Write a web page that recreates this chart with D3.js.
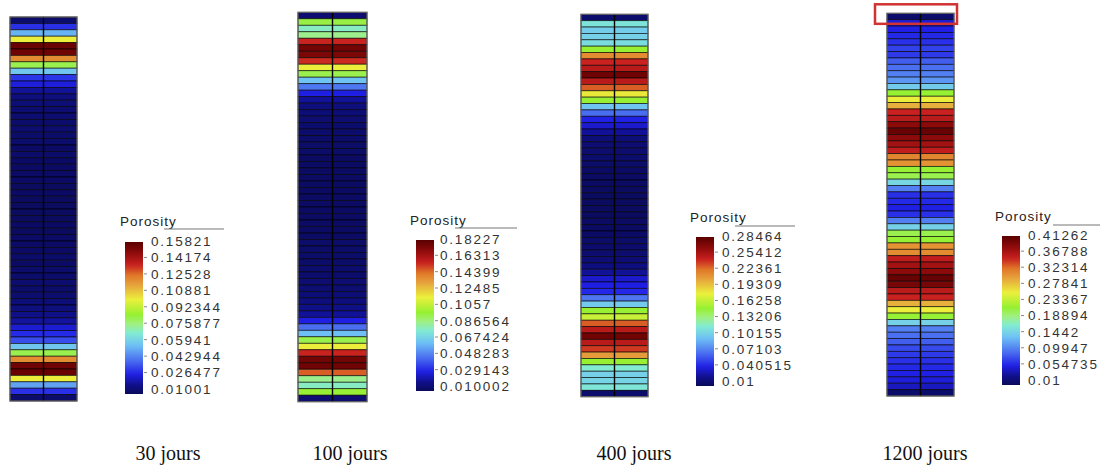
<!DOCTYPE html>
<html><head><meta charset="utf-8">
<script src="https://cdn.jsdelivr.net/npm/d3@7"></script>
<style>body{margin:0;background:#fff}svg{display:block}</style>
</head><body>
<svg id="chart" width="1107" height="470"></svg>
<script>
// ---------- DATA ----------
const panelLabels = ["30 jours", "100 jours", "400 jours", "1200 jours"];
const colorbarTitle = "Porosity";

// porosity per cell row, top to bottom (60 rows)
const porosity30 = [
  0.013, 0.032, 0.055, 0.102, 0.155, 0.154, 0.121, 0.084, 0.059, 0.033,
  0.028, 0.020, 0.016, 0.015, 0.014, 0.014, 0.013, 0.014, 0.013, 0.013,
  0.012, 0.013, 0.012, 0.012, 0.012, 0.012, 0.011, 0.012, 0.011, 0.011,
  0.011, 0.011, 0.012, 0.011, 0.012, 0.012, 0.012, 0.013, 0.012, 0.013,
  0.013, 0.014, 0.013, 0.014, 0.015, 0.016, 0.018, 0.021, 0.027, 0.031,
  0.037, 0.059, 0.084, 0.121, 0.154, 0.155, 0.102, 0.052, 0.032, 0.013
];
const porosity100 = [
  0.015, 0.097, 0.081, 0.088, 0.156, 0.176, 0.174, 0.155, 0.117, 0.096,
  0.066, 0.050, 0.032, 0.022, 0.017, 0.016, 0.015, 0.014, 0.014, 0.013,
  0.013, 0.013, 0.012, 0.012, 0.012, 0.012, 0.012, 0.012, 0.012, 0.012,
  0.012, 0.012, 0.012, 0.012, 0.012, 0.013, 0.013, 0.013, 0.013, 0.014,
  0.014, 0.015, 0.015, 0.016, 0.017, 0.019, 0.022, 0.032, 0.048, 0.065,
  0.096, 0.117, 0.156, 0.176, 0.177, 0.148, 0.088, 0.081, 0.099, 0.015
];
const porosity400 = [
  0.016, 0.116, 0.104, 0.106, 0.112, 0.153, 0.216, 0.243, 0.249, 0.276,
  0.249, 0.230, 0.183, 0.153, 0.100, 0.070, 0.046, 0.040, 0.029, 0.020,
  0.018, 0.017, 0.016, 0.015, 0.014, 0.013, 0.013, 0.012, 0.012, 0.012,
  0.012, 0.012, 0.013, 0.013, 0.014, 0.015, 0.016, 0.017, 0.019, 0.022,
  0.029, 0.040, 0.045, 0.048, 0.073, 0.103, 0.153, 0.169, 0.230, 0.249,
  0.276, 0.249, 0.238, 0.210, 0.153, 0.120, 0.106, 0.108, 0.117, 0.016
];
const porosity1200 = [
  0.018, 0.058, 0.062, 0.066, 0.070, 0.078, 0.074, 0.091, 0.099, 0.107,
  0.119, 0.147, 0.219, 0.260, 0.292, 0.352, 0.360, 0.384, 0.405, 0.384,
  0.372, 0.356, 0.316, 0.308, 0.219, 0.211, 0.155, 0.107, 0.070, 0.066,
  0.062, 0.070, 0.107, 0.151, 0.211, 0.219, 0.308, 0.312, 0.356, 0.372,
  0.384, 0.405, 0.396, 0.360, 0.352, 0.292, 0.260, 0.219, 0.151, 0.107,
  0.099, 0.091, 0.082, 0.074, 0.070, 0.066, 0.062, 0.058, 0.050, 0.018
];

// colorbar tick labels, top (max) to bottom (min)
const ticks30 = ["0.15821","0.14174","0.12528","0.10881","0.092344","0.075877","0.05941","0.042944","0.026477","0.01001"];
const ticks100 = ["0.18227","0.16313","0.14399","0.12485","0.1057","0.086564","0.067424","0.048283","0.029143","0.010002"];
const ticks400 = ["0.28464","0.25412","0.22361","0.19309","0.16258","0.13206","0.10155","0.07103","0.040515","0.01"];
const ticks1200 = ["0.41262","0.36788","0.32314","0.27841","0.23367","0.18894","0.1442","0.09947","0.054735","0.01"];

// jet-like colormap stops
const cmapStops = [0, 0.06, 0.13, 0.22, 0.32, 0.40, 0.46, 0.52, 0.62, 0.72, 0.78, 0.85, 0.93, 1];
const cmapColors = ["#0a0a5a","#10108c","#2020e6","#4a6ef0","#6ec0f5","#82ebd2","#a0f082","#96f032","#ebf03c","#e6a03c","#e07828","#c82020","#8c0a0a","#5a0000"];

// ---------- LAYOUT ----------
const series = [porosity30, porosity100, porosity400, porosity1200];
const tickSets = [ticks30, ticks100, ticks400, ticks1200];
const layout = [
  {x0:10,  x1:77,  y0:17,   y1:401,   barX:125,  barTop:241, barBot:389, labX:151,  titleX:120,  titleY:221, lx0:164,  lx1:224,  ly:229, capX:168},
  {x0:298, x1:367, y0:12.3, y1:401.7, barX:416,  barTop:239, barBot:386, labX:440,  titleX:410,  titleY:220, lx0:455,  lx1:517,  ly:228, capX:350},
  {x0:581, x1:648, y0:14.3, y1:396.7, barX:696,  barTop:236, barBot:381, labX:722,  titleX:690,  titleY:217, lx0:735,  lx1:795,  ly:226, capX:634},
  {x0:887, x1:954, y0:13.3, y1:396,   barX:1002, barTop:235, barBot:380, labX:1028, titleX:995,  titleY:216, lx0:1053, lx1:1100, ly:225, capX:925}
];
const barW = 18;

const svg = d3.select("#chart");
const cmap = d3.scaleLinear().domain(cmapStops).range(cmapColors).interpolate(d3.interpolateRgb).clamp(true);

// gradient for colorbars
const defs = svg.append("defs");
const grad = defs.append("linearGradient").attr("id","jetGrad")
  .attr("x1",0).attr("y1",1).attr("x2",0).attr("y2",0);
d3.range(0, 1.0001, 0.02).forEach(t => {
  grad.append("stop").attr("offset", t).attr("stop-color", cmap(t));
});

series.forEach((vals, k) => {
  const L = layout[k];
  const ticks = tickSets[k];
  const vmax = +ticks[0], vmin = +ticks[ticks.length-1];
  const norm = d3.scaleLinear().domain([vmin, vmax]).range([0,1]).clamp(true);
  const yS = d3.scaleBand().domain(d3.range(vals.length)).range([L.y0, L.y1]);
  const xS = d3.scaleBand().domain(["left","right"]).range([L.x0, L.x1]);
  const g = svg.append("g");

  const cells = [];
  vals.forEach((v, i) => xS.domain().forEach(side => cells.push({i, side, v})));
  g.selectAll("rect.cell").data(cells).join("rect")
    .attr("class","cell")
    .attr("x", d => xS(d.side))
    .attr("y", d => yS(d.i))
    .attr("width", xS.bandwidth())
    .attr("height", yS.bandwidth())
    .attr("fill", d => cmap(norm(d.v)))
    .attr("stroke", "#000")
    .attr("stroke-opacity", 0.75)
    .attr("stroke-width", 0.8);

  g.append("line")
    .attr("x1", xS("right")).attr("x2", xS("right"))
    .attr("y1", L.y0).attr("y2", L.y1)
    .attr("stroke", "#000").attr("stroke-width", 1.4);
  g.append("rect")
    .attr("x", L.x0).attr("y", L.y0)
    .attr("width", L.x1 - L.x0).attr("height", L.y1 - L.y0)
    .attr("fill", "none").attr("stroke", "#666").attr("stroke-width", 1.2);

  // highlight box on the last panel
  if (k === 3) {
    svg.append("rect")
      .attr("x", L.x0 - 12).attr("y", yS(0) - 9)
      .attr("width", (L.x1 - L.x0) + 15)
      .attr("height", yS(1) + yS.bandwidth()*0.65 - (yS(0) - 9))
      .attr("fill", "none").attr("stroke", "#d23232").attr("stroke-width", 2.5);
  }

  // colorbar
  const cy = d3.scaleLinear().domain([vmin, vmax]).range([L.barBot, L.barTop]);
  const cb = svg.append("g");
  cb.append("rect")
    .attr("x", L.barX).attr("y", cy(vmax) + 1)
    .attr("width", barW).attr("height", cy(vmin) - cy(vmax) + 4)
    .attr("fill", "url(#jetGrad)");
  cb.selectAll("line.tk").data(ticks.slice(1, -1)).join("line")
    .attr("class","tk")
    .attr("x1", L.barX + barW + 1).attr("x2", L.barX + barW + 4)
    .attr("y1", d => cy(+d)).attr("y2", d => cy(+d))
    .attr("stroke", "#888").attr("stroke-width", 1);
  cb.selectAll("text.tl").data(ticks).join("text")
    .attr("class","tl")
    .attr("x", L.labX)
    .attr("y", d => cy(+d))
    .attr("dy", "0.36em")
    .attr("font-family", "Liberation Sans, Arial, sans-serif")
    .attr("font-size", 13.5)
    .attr("letter-spacing", 1.8)
    .attr("fill", "#333")
    .text(d => d);
  cb.append("text")
    .attr("x", L.titleX).attr("y", L.titleY)
    .attr("dy", "0.36em")
    .attr("font-family", "Liberation Sans, Arial, sans-serif")
    .attr("font-size", 13.5)
    .attr("letter-spacing", 1)
    .attr("fill", "#222")
    .text(colorbarTitle);
  cb.append("line")
    .attr("x1", L.lx0).attr("x2", L.lx1)
    .attr("y1", L.ly).attr("y2", L.ly)
    .attr("stroke", "#777").attr("stroke-width", 1.2);

  // caption
  svg.append("text")
    .attr("x", L.capX).attr("y", 460)
    .attr("text-anchor", "middle")
    .attr("font-family", "Liberation Serif, Times New Roman, serif")
    .attr("font-size", 20)
    .attr("fill", "#111")
    .text(panelLabels[k]);
});
</script>
</body></html>
